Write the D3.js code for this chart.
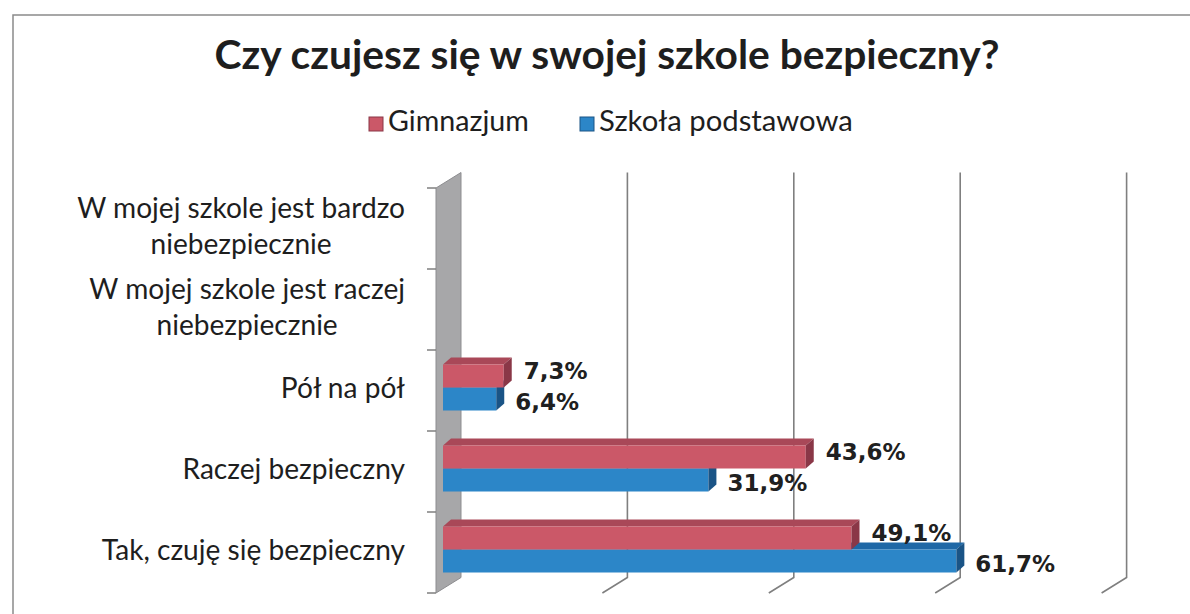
<!DOCTYPE html>
<html>
<head>
<meta charset="utf-8">
<script src="https://cdn.jsdelivr.net/npm/d3@7"></script>
<style>
  body { margin: 0; background: #fff; }
  text { font-family: Lato, "Open Sans", sans-serif; fill: #1e1e1e; }
  text.val { font-family: "DejaVu Sans", Verdana, sans-serif; font-weight: bold; fill: #202020; }
</style>
</head>
<body>
<svg id="chart" width="1190" height="614"></svg>
<script>
// dane z wykresu
var title = "Czy czujesz się w swojej szkole bezpieczny?"
var categories = ["W mojej szkole jest bardzo niebezpiecznie", "W mojej szkole jest raczej niebezpiecznie", "Pół na pół", "Raczej bezpieczny", "Tak, czuję się bezpieczny"]
var categoryLines = [["W mojej szkole jest bardzo", "niebezpiecznie"], ["W mojej szkole jest raczej", "niebezpiecznie"], ["Pół na pół"], ["Raczej bezpieczny"], ["Tak, czuję się bezpieczny"]]
var seriesNames = ["Gimnazjum", "Szkoła podstawowa"]
var gimnazjum = [0, 0, 7.3, 43.6, 49.1]
var podstawowa = [0, 0, 6.4, 31.9, 61.7]
var gridTicks = [20, 40, 60, 80, 100]

var svg = d3.select("#chart")
var pl = d3.formatLocale({decimal: ",", thousands: " ", grouping: [3], currency: ["", " zł"]})
var fmt = function (v) { return pl.format(".1f")(v) + "%" }

// ramka
svg.append("rect").attr("x", 13).attr("y", 15).attr("width", 1300).attr("height", 700)
  .style("fill", "none").style("stroke", "#8a8a8a").style("stroke-width", 1.5)

// dopasowanie rozmiaru czcionki do szerokości
function fit(sel, targetW) {
  var w = sel.node().getComputedTextLength()
  var fs = parseFloat(sel.style("font-size"))
  sel.style("font-size", (fs * targetW / w) + "px")
}

var t = svg.append("text").attr("x", 607).attr("y", 69).attr("text-anchor", "middle")
  .style("font-weight", "bold").style("font-size", "28px").text(title)
fit(t, 785)

// legenda
var colors = {
  red: {front: "#cb5868", top: "#a94858", side: "#8a3747"},
  blue: {front: "#2c86c8", top: "#1f68a6", side: "#1a5486"}
}
var legendX = [369, 580]
var legendW = [145, 258]
seriesNames.forEach(function (n, i) {
  var c = i == 0 ? colors.red : colors.blue
  svg.append("rect").attr("x", legendX[i]).attr("y", 117).attr("width", 14).attr("height", 14)
    .style("fill", c.front).style("stroke", c.side).style("stroke-width", 1)
  var lt = svg.append("text").attr("x", legendX[i] + 19).attr("y", 131).style("font-size", "20px").text(n)
  fit(lt, legendW[i] - 4)
})

// geometria 3D
var front = {x: 436, top: 188, bottom: 593}
var depth = {dx: 25, dy: -15.5}
var x = d3.scaleLinear().domain([0, 100]).range([0, 832])
var y = d3.scaleBand().domain(categories).range([front.top, front.bottom])

// ściana boczna
var wall = [[front.x, front.top], [front.x + depth.dx, front.top + depth.dy],
  [front.x + depth.dx, front.bottom + depth.dy], [front.x, front.bottom]]
svg.append("polygon").attr("points", wall.join(" "))
  .style("fill", "#a7a7a9").style("stroke", "#8d8d90").style("stroke-width", 1)

// linie siatki
gridTicks.forEach(function (v) {
  var bx = front.x + depth.dx + x(v)
  svg.append("polyline")
    .attr("points", [[bx, front.top + depth.dy], [bx, front.bottom + depth.dy], [bx - depth.dx, front.bottom]].join(" "))
    .style("fill", "none").style("stroke", "#7f7f7f").style("stroke-width", 1.6)
})

// podziałki osi
var tickYs = categories.map(function (c) { return y(c) }).concat([front.bottom])
tickYs.forEach(function (ty) {
  svg.append("line").attr("x1", front.x - 9).attr("x2", front.x).attr("y1", ty).attr("y2", ty)
    .style("stroke", "#7f7f7f").style("stroke-width", 1.5)
})

// etykiety kategorii (wiele linii w jednym <text>)
var labelSize = 20
var probe = svg.append("text").style("font-size", labelSize + "px").text(categoryLines[0][0])
labelSize = labelSize * 328 / probe.node().getComputedTextLength()
probe.remove()
categoryLines.forEach(function (lines, i) {
  var cy = y(categories[i]) + y.bandwidth() / 2
  var lh = Math.ceil(labelSize * 1.22) + 1
  var tt = svg.append("text").attr("text-anchor", "middle").style("font-size", labelSize + "px")
  var spans = lines.map(function (ln, k) {
    return tt.append("tspan").attr("y", cy + (k - (lines.length - 1) / 2) * lh + 7).text(ln)
  })
  var mw = d3.max(spans, function (s) { return s.node().getComputedTextLength() })
  spans.forEach(function (s) { s.attr("x", 405 - mw / 2) })
})

// słupki
var barX0 = 443, bh = 23, bd = {dx: 8, dy: -7}
function bar(v, top, c) {
  var w = x(v)
  var g = svg.append("g")
  g.append("polygon").attr("points", [[barX0, top], [barX0 + bd.dx, top + bd.dy], [barX0 + w + bd.dx, top + bd.dy], [barX0 + w, top]].join(" "))
    .style("fill", c.top)
  g.append("rect").attr("x", barX0).attr("y", top).attr("width", w).attr("height", bh).style("fill", c.front)
  g.append("polygon").attr("points", [[barX0 + w, top], [barX0 + w + bd.dx, top + bd.dy], [barX0 + w + bd.dx, top + bh + bd.dy], [barX0 + w, top + bh]].join(" "))
    .style("fill", c.side)
}
categories.forEach(function (c, i) {
  var mid = y(c) + y.bandwidth() / 2 - 3
  if (podstawowa[i] > 0) bar(podstawowa[i], mid, colors.blue)
  if (gimnazjum[i] > 0) bar(gimnazjum[i], mid - bh, colors.red)
})

// etykiety wartości
categories.forEach(function (c, i) {
  var mid = y(c) + y.bandwidth() / 2 - 3
  if (gimnazjum[i] > 0)
    svg.append("text").attr("class", "val").attr("x", barX0 + x(gimnazjum[i]) + 20).attr("y", mid - bh / 2 + 3)
      .style("font-size", "23px").text(fmt(gimnazjum[i]))
  if (podstawowa[i] > 0)
    svg.append("text").attr("class", "val").attr("x", barX0 + x(podstawowa[i]) + 19).attr("y", mid + bh / 2 + 11)
      .style("font-size", "23px").text(fmt(podstawowa[i]))
})
</script>
</body>
</html>
